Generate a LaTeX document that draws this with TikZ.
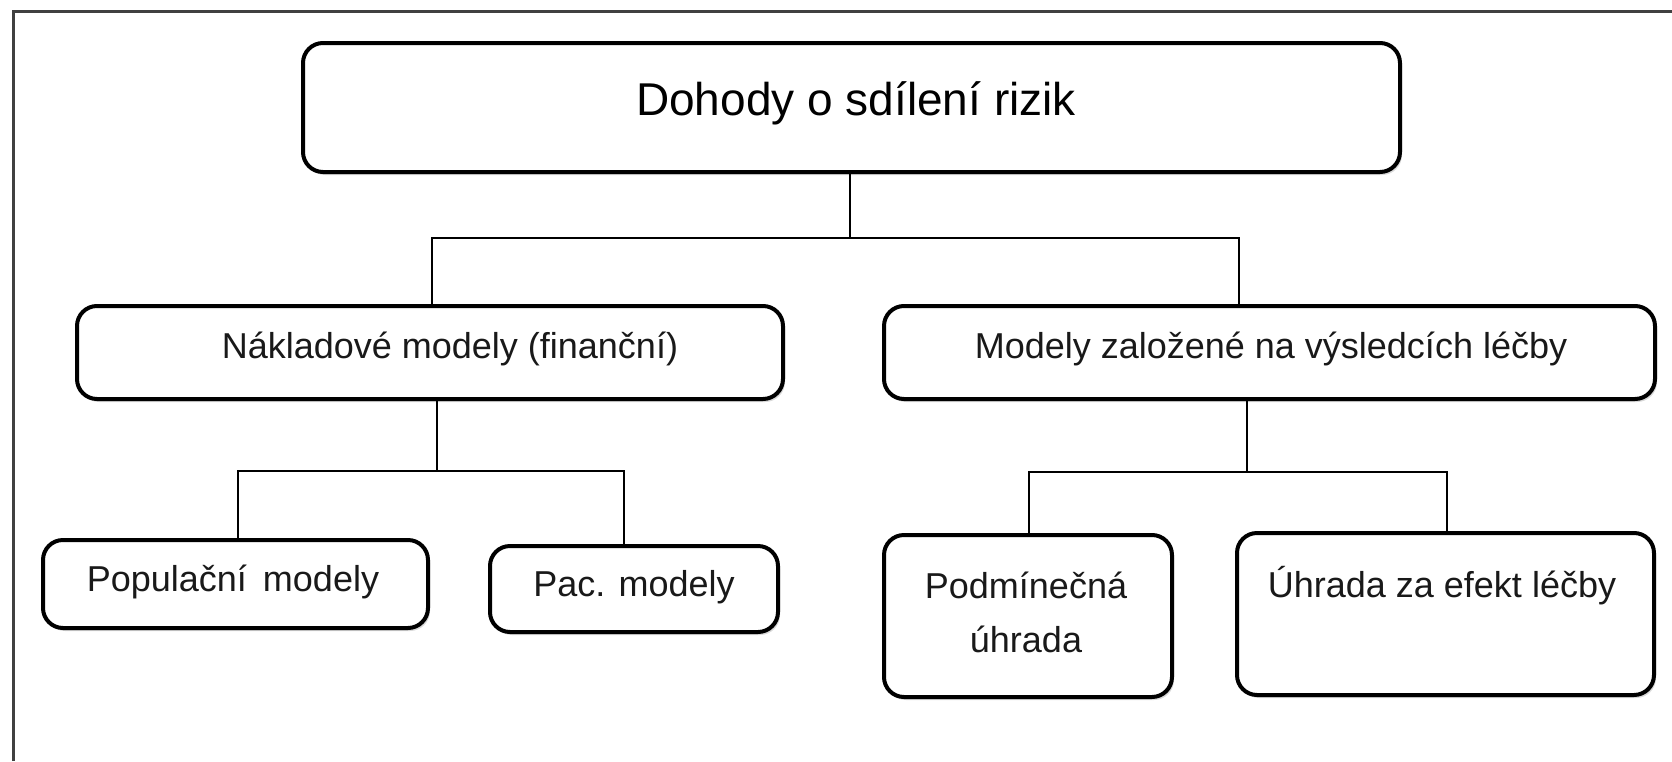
\documentclass[tikz,border=0pt]{standalone}
\usepackage{fontspec}
\setmainfont{Liberation Sans}
\usetikzlibrary{shadows}
\begin{document}
\begin{tikzpicture}[x=0.5pt,y=-0.5pt,
  box/.style={draw=black, line width=2pt, rounded corners=10pt, fill=white, inner sep=0pt,
    drop shadow={shadow xshift=1pt,shadow yshift=-1.5pt,fill=black!15,opacity=1}},
  conn/.style={draw=black, line width=1pt},
  lbl/.style={anchor=base, inner sep=0pt, text=black!90, font=\fontsize{18pt}{22pt}\selectfont},
  toplbl/.style={anchor=base, inner sep=0pt, text=black, font=\fontsize{23pt}{27pt}\selectfont},
  frame/.style={draw=black!75, line width=1.5pt}]
\useasboundingbox (0,0) rectangle (1672,761);
\fill[white] (0,0) rectangle (1672,761);
% outer frame (runs off the right and bottom edges)
\coordinate (fbl) at (13,761);
\coordinate (ftl) at (13,11);
\coordinate (ftr) at (1672,11);
\draw[frame] (fbl) -- (ftl) -- (ftr);

% boxes
\node[box, minimum width=548.5pt, minimum height=64.5pt] (top) at (851.5,107.5) {};
\node[box, minimum width=353pt, minimum height=46.5pt] (ml) at (430,352.5) {};
\node[box, minimum width=385.5pt, minimum height=46.5pt] (mr) at (1269.5,352.5) {};
\node[box, minimum width=192.5pt, minimum height=44pt] (pop) at (235.5,584) {};
\node[box, minimum width=144pt, minimum height=43pt] (pac) at (634,589) {};
\node[box, minimum width=144pt, minimum height=81pt] (pod) at (1028,616) {};
\node[box, minimum width=208.5pt, minimum height=81pt] (uhr) at (1445.5,614) {};

% labels
\node[toplbl] (ttop) at (856,115) {Dohody o sdílení rizik};
\node[lbl] (tml) at (450,358) {Nákladové modely (finanční)};
\node[lbl] (tmr) at (1271,358) {Modely založené na výsledcích léčby};
\node[lbl] (tpop) at (233,591) {Populační\hspace{3pt} modely};
\node[lbl] (tpac) at (634,596) {Pac. modely};
\node[lbl] (tpod1) at (1026,598) {Podmínečná};
\node[lbl] (tpod2) at (1026,652) {úhrada};
\node[lbl] (tuhr) at (1442,597) {Úhrada za efekt léčby};

% connector junctions
\coordinate (b1) at (850,238);
\coordinate (b1l) at (432,238);
\coordinate (b1r) at (1239,238);
\coordinate (b2) at (437,471);
\coordinate (b2l) at (238,471);
\coordinate (b2r) at (624,471);
\coordinate (b3) at (1247,472);
\coordinate (b3l) at (1029,472);
\coordinate (b3r) at (1447,472);

% connectors
\draw[conn] (top.south -| b1) -- (b1);
\draw[conn] (ml.north -| b1l) -- (b1l) -- (b1r) -- (mr.north -| b1r);
\draw[conn] (ml.south -| b2) -- (b2);
\draw[conn] (pop.north -| b2l) -- (b2l) -- (b2r) -- (pac.north -| b2r);
\draw[conn] (mr.south -| b3) -- (b3);
\draw[conn] (pod.north -| b3l) -- (b3l) -- (b3r) -- (uhr.north -| b3r);
\end{tikzpicture}
\end{document}
